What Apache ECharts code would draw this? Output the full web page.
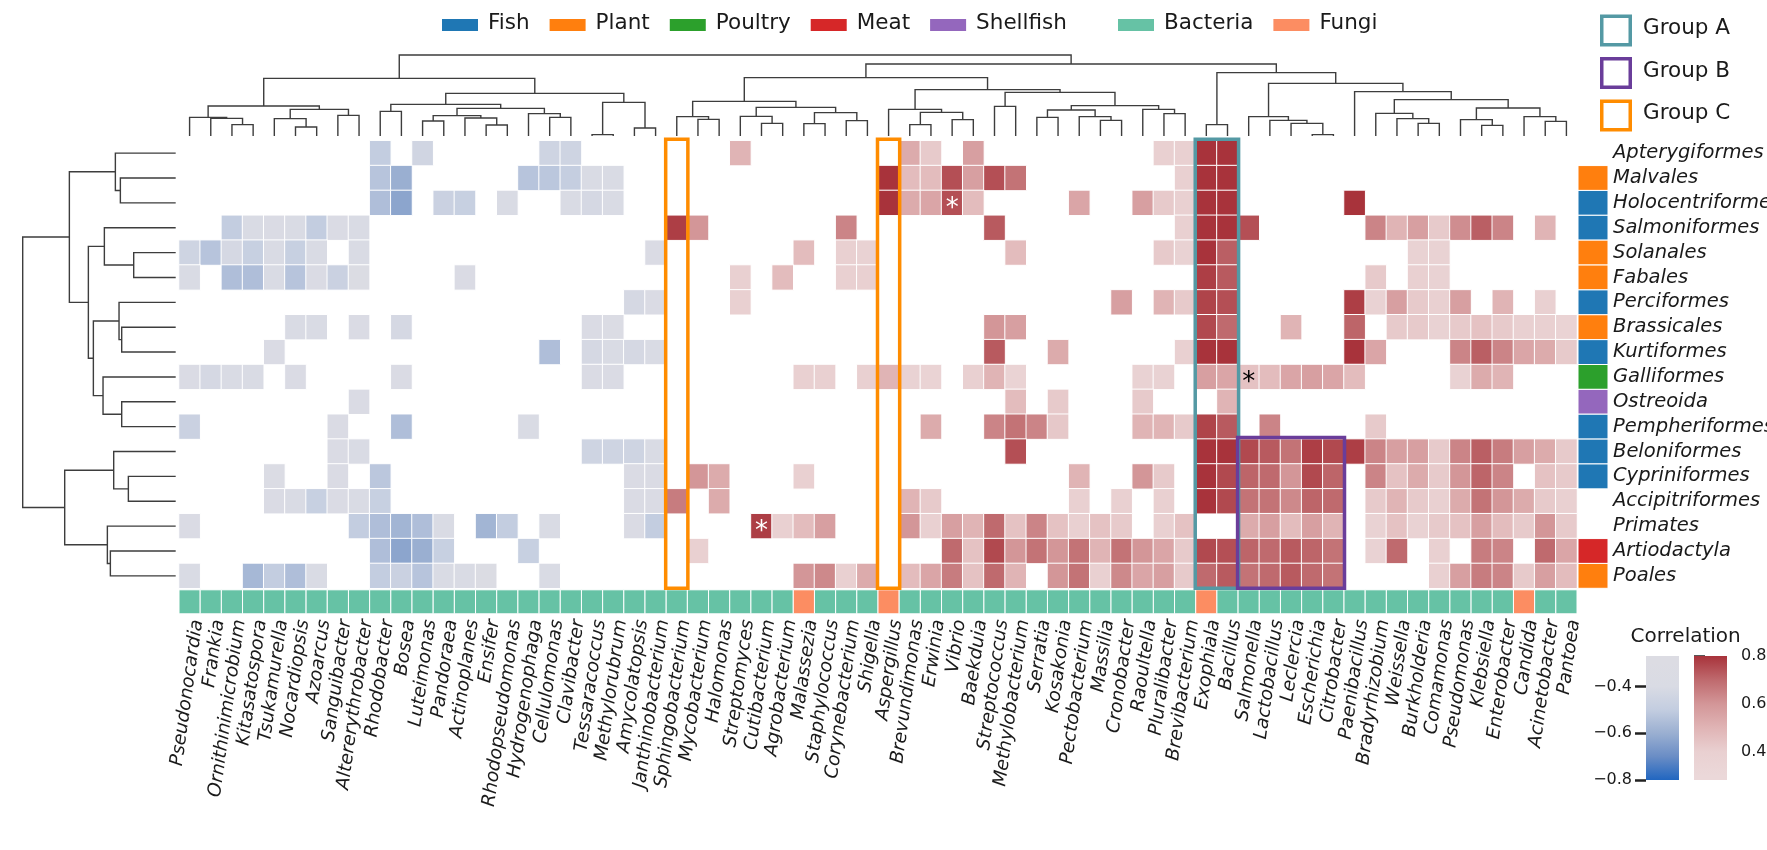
<!DOCTYPE html>
<html>
<head>
<meta charset="utf-8">
<title>Correlation heatmap</title>
<script src="https://cdn.jsdelivr.net/npm/echarts@6.0.0/dist/echarts.min.js"></script>
<style>
html,body{margin:0;padding:0;background:#fff;}
#chart{width:1767px;height:850px;}
</style>
</head>
<body>
<div id="chart"></div>
<script>
const _ = null;

// ---------- categories ----------
const genera = ['Pseudonocardia','Frankia','Ornithinimicrobium','Kitasatospora','Tsukamurella','Nocardiopsis','Azoarcus','Sanguibacter','Altererythrobacter','Rhodobacter',
'Bosea','Luteimonas','Pandoraea','Actinoplanes','Ensifer','Rhodopseudomonas','Hydrogenophaga','Cellulomonas','Clavibacter','Tessaracoccus',
'Methylorubrum','Amycolatopsis','Janthinobacterium','Sphingobacterium','Mycobacterium','Halomonas','Streptomyces','Cutibacterium','Agrobacterium','Malassezia',
'Staphylococcus','Corynebacterium','Shigella','Aspergillus','Brevundimonas','Erwinia','Vibrio','Baekduia','Streptococcus','Methylobacterium',
'Serratia','Kosakonia','Pectobacterium','Massilia','Cronobacter','Raoultella','Pluralibacter','Brevibacterium','Exophiala','Bacillus',
'Salmonella','Lactobacillus','Leclercia','Escherichia','Citrobacter','Paenibacillus','Bradyrhizobium','Weissella','Burkholderia','Comamonas',
'Pseudomonas','Klebsiella','Enterobacter','Candida','Acinetobacter','Pantoea'];
const fungiGenera = ['Malassezia','Aspergillus','Exophiala','Candida'];

const orders = ['Apterygiformes','Malvales','Holocentriformes','Salmoniformes','Solanales','Fabales','Perciformes','Brassicales','Kurtiformes',
'Galliformes','Ostreoida','Pempheriformes','Beloniformes','Cypriniformes','Accipitriformes','Primates','Artiodactyla','Poales'];
const orderFood = [_,'Plant','Fish','Fish','Plant','Plant','Fish','Plant','Fish','Poultry','Shellfish','Fish','Fish','Fish',_,_,'Meat','Plant'];

const foodLegend = [['Fish','#1f77b4'],['Plant','#ff7f0e'],['Poultry','#2ca02c'],['Meat','#d62728'],['Shellfish','#9467bd']];
const taxaLegend = [['Bacteria','#66c2a5'],['Fungi','#fc8d62']];

// ---------- correlation values (row = order, 66 genera each) ----------
const rApterygiformes = [_,_,_,_,_,_,_,_,_,-.5, _,-.44,_,_,_,_,_,-.45,-.45,_, _,_,_,_,_,_,.5,_,_,_, _,_,_,_,.53,.42,_,.57,_,_, _,_,_,_,_,_,.4,.4,.8,.8, _,_,_,_,_,_,_,_,_,_, _,_,_,_,_,_];
const rMalvales = [_,_,_,_,_,_,_,_,_,-.53, -.6,_,_,_,_,_,-.53,-.52,-.49,-.4, -.4,_,_,_,_,_,_,_,_,_, _,_,_,.8,.47,.47,.75,.57,.75,.68, _,_,_,_,_,_,_,.4,.8,.8, _,_,_,_,_,_,_,_,_,_, _,_,_,_,_,_];
const rHolocentriformes = [_,_,_,_,_,_,_,_,_,-.55, -.63,_,-.47,-.48,_,-.4,_,_,-.4,-.42, -.4,_,_,_,_,_,_,_,_,_, _,_,_,.8,.53,.55,.75,.47,_,_, _,_,.55,_,_,.57,.42,.4,.8,.8, _,_,_,_,_,.8,_,_,_,_, _,_,_,_,_,_];
const rSalmoniformes = [_,_,-.5,-.4,-.37,-.4,-.5,-.37,-.4,_, _,_,_,_,_,_,_,_,_,_, _,_,_,.78,.6,_,_,_,_,_, _,.64,_,_,_,_,_,_,.73,_, _,_,_,_,_,_,_,.4,.8,.8, .75,_,_,_,_,_,.64,.5,.57,.42, .62,.72,.64,_,.5,_];
const rSolanales = [-.45,-.53,-.42,-.48,-.4,-.48,-.4,_,-.4,_, _,_,_,_,_,_,_,_,_,_, _,_,-.37,_,_,_,_,_,_,.47, _,.4,.38,_,_,_,_,_,_,.47, _,_,_,_,_,_,.42,.38,.8,.72, _,_,_,_,_,_,_,_,.38,.38, _,_,_,_,_,_];
const rFabales = [-.4,_,-.55,-.55,-.4,-.53,-.37,-.47,-.33,_, _,_,_,-.37,_,_,_,_,_,_, _,_,_,_,_,_,.4,_,.47,_, _,.4,.4,_,_,_,_,_,_,_, _,_,_,_,_,_,_,_,.78,.73, _,_,_,_,_,_,.42,_,.4,.38, _,_,_,_,_,_];
const rPerciformes = [_,_,_,_,_,_,_,_,_,_, _,_,_,_,_,_,_,_,_,_, _,-.42,-.37,_,_,_,.4,_,_,_, _,_,_,_,_,_,_,_,_,_, _,_,_,_,.57,_,.5,.42,.77,.75, _,_,_,_,_,.78,.38,.57,.42,.4, .57,_,.5,_,.4,_];
const rBrassicales = [_,_,_,_,_,-.4,-.4,_,-.37,_, -.42,_,_,_,_,_,_,_,_,-.37, -.35,_,_,_,_,_,_,_,_,_, _,_,_,_,_,_,_,_,.6,.57, _,_,_,_,_,_,_,_,.76,.7, _,_,.5,_,_,.71,_,.42,.42,.38, .42,.45,.42,.4,.4,.36];
const rKurtiformes = [_,_,_,_,-.37,_,_,_,_,_, _,_,_,_,_,_,_,-.55,_,-.42, -.4,-.42,-.4,_,_,_,_,_,_,_, _,_,_,_,_,_,_,_,.73,_, _,.53,_,_,_,_,_,.4,.8,.8, _,_,_,_,_,.8,.55,_,_,_, .64,.72,.64,.55,.53,.42];
const rGalliformes = [-.37,-.42,-.4,-.4,_,-.37,_,_,_,_, -.37,_,_,_,_,_,_,_,_,-.37, -.37,_,_,_,_,_,_,_,_,.4, .4,_,.4,.5,.38,.36,_,.4,.5,.36, _,_,_,_,_,.38,.38,_,.57,.55, .45,.47,.55,.57,.55,.47,_,_,_,_, .38,.53,.5,_,_,_];
const rOstreoida = [_,_,_,_,_,_,_,_,-.37,_, _,_,_,_,_,_,_,_,_,_, _,_,_,_,_,_,_,_,_,_, _,_,_,_,_,_,_,_,_,.47, _,.42,_,_,_,.42,_,_,_,.5, _,_,_,_,_,_,_,_,_,_, _,_,_,_,_,_];
const rPempheriformes = [-.47,_,_,_,_,_,_,-.37,_,_, -.55,_,_,_,_,_,-.4,_,_,_, _,_,_,_,_,_,_,_,_,_, _,_,_,_,_,.53,_,_,.64,.68, .64,.43,_,_,_,.5,.5,.42,.77,.73, _,.64,_,_,_,_,.42,_,_,_, _,_,_,_,_,_];
const rBeloniformes = [_,_,_,_,_,_,_,-.37,-.4,_, _,_,_,_,_,_,_,_,_,-.45, -.45,-.45,-.4,_,_,_,_,_,_,_, _,_,_,_,_,_,_,_,_,.75, _,_,_,_,_,_,_,_,.8,.8, .76,.73,.68,.78,.76,.78,.64,.57,.57,.42, .64,.72,.66,.57,.53,.42];
const rCypriniformes = [_,_,_,_,-.35,_,_,-.37,_,-.52, _,_,_,_,_,_,_,_,_,_, _,-.37,-.37,_,.6,.53,_,_,_,.4, _,_,_,_,_,_,_,_,_,_, _,_,.5,_,_,.6,.42,_,.8,.76, .71,.7,.6,.76,.71,_,.64,.45,.53,.42, .6,.71,.64,_,.45,.42];
const rAccipitriformes = [_,_,_,_,-.37,-.4,-.48,-.37,-.4,-.48, _,_,_,_,_,_,_,_,_,_, _,-.37,-.37,.66,_,.53,_,_,_,_, _,_,_,_,.5,.42,_,_,_,_, _,_,.4,_,.4,_,.4,_,.8,.76, .68,.68,.63,.71,.7,_,.42,.5,.42,.4, .53,.68,.6,.53,.42,.4];
const rPrimates = [-.37,_,_,_,_,_,_,_,-.5,-.55, -.58,-.55,-.4,_,-.58,-.5,_,-.4,_,_, _,-.37,-.5,_,_,_,_,.78,.4,.47, .57,_,_,_,.6,.4,.57,.5,.7,.45, .64,.45,.4,.45,.42,_,.4,.45,_,_, .53,.57,.47,.57,.5,_,.38,.45,.38,.42, .45,.57,.47,.42,.6,.42];
const rArtiodactyla = [_,_,_,_,_,_,_,_,_,-.55, -.63,-.6,-.48,_,_,_,-.48,_,_,_, _,_,_,_,.4,_,_,_,_,_, _,_,_,_,_,_,.7,.45,.76,.6, .68,.6,.68,.5,.68,.6,.55,.42,.76,.75, .71,.7,.73,.71,.68,_,.38,.7,_,.4, _,.66,.64,_,.7,.55];
const rPoales = [-.4,_,_,-.57,-.5,-.55,-.4,_,_,-.5, -.47,-.53,-.4,-.4,-.33,_,_,-.4,_,_, _,_,_,_,_,_,_,_,_,.6, .63,.4,.53,_,.47,.55,.66,.45,.7,.5, _,.6,.68,.4,.63,.55,.57,.42,.7,.73, .68,.7,.73,.7,.68,_,_,_,_,.4, .57,.66,.64,.42,.57,.47];

const corrRows = [rApterygiformes,rMalvales,rHolocentriformes,rSalmoniformes,rSolanales,rFabales,rPerciformes,rBrassicales,rKurtiformes,
  rGalliformes,rOstreoida,rPempheriformes,rBeloniformes,rCypriniformes,rAccipitriformes,rPrimates,rArtiodactyla,rPoales];

// significance marks
const stars = [['Vibrio','Holocentriformes','#ffffff'],['Cutibacterium','Primates','#ffffff'],['Salmonella','Galliformes','#000000']];

// highlighted groups: [firstGenus, lastGenus, firstOrder, lastOrder]
const groupA = [['Exophiala','Bacillus','Apterygiformes','Poales']];
const groupB = [['Salmonella','Citrobacter','Beloniformes','Poales']];
const groupC = [['Sphingobacterium','Sphingobacterium','Apterygiformes','Poales'],['Aspergillus','Aspergillus','Apterygiformes','Poales']];
const groupColors = ['#5499a4','#6a3d9a','#ff8c00'];
const groupNames = ['Group A','Group B','Group C'];

// colour scales
const negStops = [[-0.8,'#2166c0'],[-0.7,'#6a8dc5'],[-0.6,'#9aafd1'],[-0.5,'#c3cde0'],[-0.4,'#d9dbe4'],[-0.3,'#dcdce3']];
const posStops = [[0.3,'#ebd8d9'],[0.4,'#e9d0d1'],[0.5,'#e0b4b5'],[0.6,'#d39698'],[0.7,'#bf6a6e'],[0.8,'#a8333b']];
const negBar = [-0.8,-0.27], posBar = [0.283,0.8];
const negTicks = [-0.8,-0.6,-0.4], posTicks = [0.4,0.6,0.8];

// ---------- dendrograms (height, left, right); leaves = index ----------
const tA=[34,2,3], tB=[53,1,tA], tC=[56,0,tB], tD=[27,5,6], tE=[52,4,tD], tF=[62,7,8], tG=[80,tE,tF], tH=[90,tC,tG];
const tI=[74,9,10], tJ=[45,11,12], tK=[33,14,15], tL=[54,13,tK], tM=[61,tJ,tL], tN=[56,17,18], tO=[67,16,tN], tP=[83,tM,tO];
const tQ=[95,tI,tP], tR=[4,19,20], tS=[24,21,22], tT=[101,tR,tS], tU=[128,tQ,tT], tV=[173,tH,tU];
const tW=[50,24,25], tX=[58,23,tW], tY=[38,27,28], tZ=[59,26,tY], tAA=[37,29,30], tAB=[46,31,32], tAC=[70,tAA,tAB], tAD=[86,tZ,tAC], tAE=[104,tX,tAD];
const tAF=[34,34,35], tAG=[49,36,37], tAH=[71,tAF,tAG], tAI=[80,33,tAH], tAJ=[89,38,39], tAK=[56,40,41], tAL=[47,43,44], tAM=[58,42,tAL];
const tAN=[78,tAK,tAM], tAO=[67,46,47], tAP=[80,45,tAO], tAQ=[91,tAN,tAP], tAR=[131,tAJ,tAQ], tAS=[139,tAI,tAR], tAT=[175,tAE,tAS];
const tAV=[34,48,49], tAY=[4,53,54], tAZ=[38,52,tAY], tBA=[47,51,tAZ], tBB=[58,50,tBA];
const tBC=[38,58,59], tBD=[52,57,tBC], tBE=[68,56,tBD], tBF=[32,61,62], tBG=[49,60,tBF], tBH=[44,64,65], tBI=[58,63,tBH];
const tBJ=[84,tBG,tBI], tBK=[109,tBE,tBJ], tBL=[133,55,tBK], tAX=[158,tBB,tBL], tAW=[190,tAV,tAX], tAU=[216,tAT,tAW];
const topTree = [243,tV,tAU];
const topMax = 243;

const la=[166,1,2], lb=[181,0,la], ld=[126,4,5], le=[214,3,ld], lf=[162,7,8], lg=[170,6,lf], lh=[162,10,11], li=[218,9,lh];
const lj=[247,lg,li], lk=[262,le,lj], lc=[319,lb,lk], ll=[142,13,14], lm=[186,12,ll], ln=[196,16,17], lo=[205,15,ln], lp=[333,lm,lo];
const leftTree = [459,lc,lp];
const leftMax = 459;

// ---------- build ----------
function segs(tree, out){
  if (typeof tree === 'number') return {pos: tree + 0.5, h: 0};
  const a = segs(tree[1], out), b = segs(tree[2], out);
  out.push([a.pos, a.h, tree[0], b.pos, b.h]);
  return {pos: (a.pos + b.pos) / 2, h: tree[0]};
}
const topSegs = []; segs(topTree, topSegs);
const leftSegs = []; segs(leftTree, leftSegs);

const negData = [], posData = [];
corrRows.forEach((row, r) => row.forEach((v, c) => {
  if (v === null) return;
  (v < 0 ? negData : posData).push([c, r, v]);
}));

const typeData = genera.map((g, i) => [i, 0, fungiGenera.indexOf(g) >= 0 ? 1 : 0]);
const taxaColors = taxaLegend.map(d => d[1]);
const foodNames = foodLegend.map(d => d[0]);
const foodColors = foodLegend.map(d => d[1]);
const stripData = [];
orderFood.forEach((f, r) => { if (f) stripData.push([0, r, foodNames.indexOf(f)]); });

const frameData = [];
[groupA, groupB, groupC].forEach((g, gi) => g.forEach(b => {
  frameData.push([genera.indexOf(b[0]), orders.indexOf(b[2]), genera.indexOf(b[1]), orders.indexOf(b[3]), gi]);
}));
const starData = stars.map((s, i) => [genera.indexOf(s[0]), orders.indexOf(s[1]), i]);

const FONT = 'DejaVu Sans';
const TXT = '#1a1a1a';

// layout
const GX = 179, GY = 140.7, GW = 1398, GH = 447.6;
const gridBase = {outerBoundsMode:'none', containLabel:false};
const grids = [
  {left: GX, top: GY, width: GW, height: GH},            // 0 heatmap
  {left: GX, top: 589.8, width: GW, height: 24},         // 1 type bar
  {left: GX + 8, top: 589.8, width: GW, height: 24},     // 2 genus labels
  {left: 1578, top: GY, width: 30, height: GH},          // 3 food strip + order labels
  {left: GX, top: 55, width: GW, height: 81},            // 4 top dendrogram
  {left: 22.7, top: GY, width: 153, height: GH},         // 5 left dendrogram
  {left: 1646, top: 656, width: 33, height: 124},        // 6 negative colorbar
  {left: 1694, top: 656, width: 33, height: 124}         // 7 positive colorbar
].map(g => Object.assign({}, gridBase, g));
const hidden = {axisLine:{show:false}, axisTick:{show:false}, axisLabel:{show:false}, splitLine:{show:false}};
const xAxes = [
  Object.assign({type:'category', gridIndex:0, data:genera}, hidden),
  Object.assign({type:'category', gridIndex:1, data:genera}, hidden),
  {type:'category', gridIndex:2, data:genera, axisLine:{show:false}, axisTick:{show:false}, splitLine:{show:false},
   axisLabel:{show:true, interval:0, rotate:82, margin:6, fontFamily:FONT, fontStyle:'italic', fontSize:18.5, color:TXT}},
  Object.assign({type:'category', gridIndex:3, data:['food']}, hidden),
  Object.assign({type:'value', gridIndex:4, min:0, max:genera.length}, hidden),
  Object.assign({type:'value', gridIndex:5, min:0, max:leftMax, inverse:true}, hidden),
  Object.assign({type:'value', gridIndex:6, min:0, max:1}, hidden),
  Object.assign({type:'value', gridIndex:7, min:0, max:1}, hidden)
];
const fmt = v => (v < 0 ? '\u2212' : '') + Math.abs(v).toFixed(1);
const cbAxis = (gi, range, ticks, pos) => ({
  type:'value', gridIndex:gi, min:range[0], max:range[1], position:pos,
  axisLine:{show:false}, splitLine:{show:false},
  axisTick:{show:true, customValues:ticks, length:11, inside:false, lineStyle:{color:'#222', width:2.5}},
  axisLabel:{show:true, customValues:ticks, formatter:fmt, margin:14, fontFamily:FONT, fontSize:16, color:TXT}
});
const yAxes = [
  Object.assign({type:'category', gridIndex:0, data:orders, inverse:true}, hidden),
  Object.assign({type:'category', gridIndex:1, data:['type']}, hidden),
  Object.assign({type:'value', gridIndex:2}, hidden),
  {type:'category', gridIndex:3, data:orders, inverse:true, position:'right',
   axisLine:{show:false}, axisTick:{show:false}, splitLine:{show:false},
   axisLabel:{show:true, interval:0, margin:5, fontFamily:FONT, fontStyle:'italic', fontSize:19.5, color:TXT}},
  Object.assign({type:'value', gridIndex:4, min:0, max:topMax}, hidden),
  Object.assign({type:'value', gridIndex:5, min:0, max:orders.length, inverse:true}, hidden),
  cbAxis(6, negBar, negTicks, 'left'),
  cbAxis(7, posBar, posTicks, 'right')
];

function cellRect(api, colorOf){
  const p = api.coord([api.value(0), api.value(1)]);
  const s = api.size([1, 1]);
  return {type:'rect', shape:{x:p[0]-s[0]/2, y:p[1]-s[1]/2, width:s[0], height:s[1]},
          style:{fill:colorOf(api.value(2)), stroke:'#fff', lineWidth:1}};
}
function gradientFor(stops, range){
  const cs = stops.map(s => ({offset: Math.min(1, Math.max(0, (s[0]-range[0])/(range[1]-range[0]))), color: s[1]}));
  cs.push({offset:1, color: stops[stops.length-1][1]});
  return new echarts.graphic.LinearGradient(0, 1, 0, 0, cs);
}
function colorbarSeries(gi, stops, range){
  return {type:'custom', xAxisIndex:gi, yAxisIndex:gi, silent:true, data:[[0, range[0], 1, range[1]]],
    renderItem:(params, api) => {
      const a = api.coord([api.value(0), api.value(1)]), b = api.coord([api.value(2), api.value(3)]);
      return {type:'rect', shape:{x:a[0], y:b[1], width:b[0]-a[0], height:a[1]-b[1]}, style:{fill:gradientFor(stops, range)}};
    }};
}

// legend graphics
const graphics = [];
function legendRow(items, x0, y, colGap){
  const ctx = document.createElement('canvas').getContext('2d');
  ctx.font = '21.5px "' + FONT + '"';
  let x = x0;
  items.forEach(it => {
    graphics.push({type:'rect', left:x, top:y-6, shape:{width:36, height:12}, style:{fill:it[1]}});
    graphics.push({type:'text', left:x+46, top:y-13, style:{text:it[0], font:'21.5px "' + FONT + '"', fill:TXT}});
    x += 46 + ctx.measureText(it[0]).width + colGap;
  });
}
legendRow(foodLegend, 442, 25, 20);
legendRow(taxaLegend, 1118, 25, 20);
groupNames.forEach((n, i) => {
  const cy = 30.5 + i * 42.5;
  graphics.push({type:'rect', shape:{x:1601.75, y:cy-14.25, width:28.5, height:28.5}, style:{fill:'#fff', stroke:groupColors[i], lineWidth:3.5}});
  graphics.push({type:'text', left:1643, top:cy-13, style:{text:n, font:'21.5px "' + FONT + '"', fill:TXT}});
});
graphics.push({type:'text', left:1686.5 - 56, top:627, style:{text:'Correlation', font:'20px "' + FONT + '"', fill:TXT}});

const option = {
  animation:false,
  backgroundColor:'#fff',
  grid:grids,
  xAxis:xAxes,
  yAxis:yAxes,
  visualMap:[
    {type:'continuous', show:false, seriesIndex:0, dimension:2, min:-0.8, max:-0.3, inRange:{color:negStops.map(s=>s[1])}},
    {type:'continuous', show:false, seriesIndex:1, dimension:2, min:0.3, max:0.8, inRange:{color:posStops.map(s=>s[1])}}
  ],
  graphic:graphics,
  series:[
    {type:'heatmap', xAxisIndex:0, yAxisIndex:0, data:negData, itemStyle:{borderColor:'#fff', borderWidth:1}, emphasis:{disabled:true}},
    {type:'heatmap', xAxisIndex:0, yAxisIndex:0, data:posData, itemStyle:{borderColor:'#fff', borderWidth:1}, emphasis:{disabled:true}},
    {type:'custom', xAxisIndex:0, yAxisIndex:0, data:frameData, z:5, clip:false, silent:true,
     renderItem:(params, api) => {
       const p0 = api.coord([api.value(0), api.value(1)]), p1 = api.coord([api.value(2), api.value(3)]);
       const s = api.size([1, 1]);
       return {type:'rect', shape:{x:p0[0]-s[0]/2-0.5, y:p0[1]-s[1]/2-1.5, width:p1[0]-p0[0]+s[0]+1, height:p1[1]-p0[1]+s[1]+1.5},
               style:{fill:null, stroke:groupColors[api.value(4)], lineWidth:3.5}};
     }},
    {type:'custom', xAxisIndex:0, yAxisIndex:0, data:starData, z:6, clip:false, silent:true,
     renderItem:(params, api) => {
       const p = api.coord([api.value(0), api.value(1)]);
       return {type:'text', x:p[0], y:p[1] + 6, z2:10,
               style:{text:'*', fill:stars[api.value(2)][2], font:'26px "' + FONT + '"', align:'center', verticalAlign:'middle'}};
     }},
    {type:'custom', xAxisIndex:1, yAxisIndex:1, data:typeData, silent:true, renderItem:(p, api) => cellRect(api, v => taxaColors[v])},
    {type:'custom', xAxisIndex:3, yAxisIndex:3, data:stripData, silent:true, renderItem:(p, api) => cellRect(api, v => foodColors[v])},
    {type:'custom', xAxisIndex:4, yAxisIndex:4, data:topSegs, silent:true, clip:false,
     renderItem:(p, api) => {
       const x1=api.value(0), h1=api.value(1), h=api.value(2), x2=api.value(3), h2=api.value(4);
       return {type:'polyline', shape:{points:[api.coord([x1,h1]),api.coord([x1,h]),api.coord([x2,h]),api.coord([x2,h2])]},
               style:{stroke:'#3d3d3d', lineWidth:1.4, fill:null}};
     }},
    {type:'custom', xAxisIndex:5, yAxisIndex:5, data:leftSegs, silent:true, clip:false,
     renderItem:(p, api) => {
       const y1=api.value(0), h1=api.value(1), h=api.value(2), y2=api.value(3), h2=api.value(4);
       return {type:'polyline', shape:{points:[api.coord([h1,y1]),api.coord([h,y1]),api.coord([h,y2]),api.coord([h2,y2])]},
               style:{stroke:'#3d3d3d', lineWidth:1.4, fill:null}};
     }},
    colorbarSeries(6, negStops, negBar),
    colorbarSeries(7, posStops, posBar)
  ]
};
const chart = echarts.init(document.getElementById('chart'));
chart.setOption(option);
</script>
</body>
</html>
